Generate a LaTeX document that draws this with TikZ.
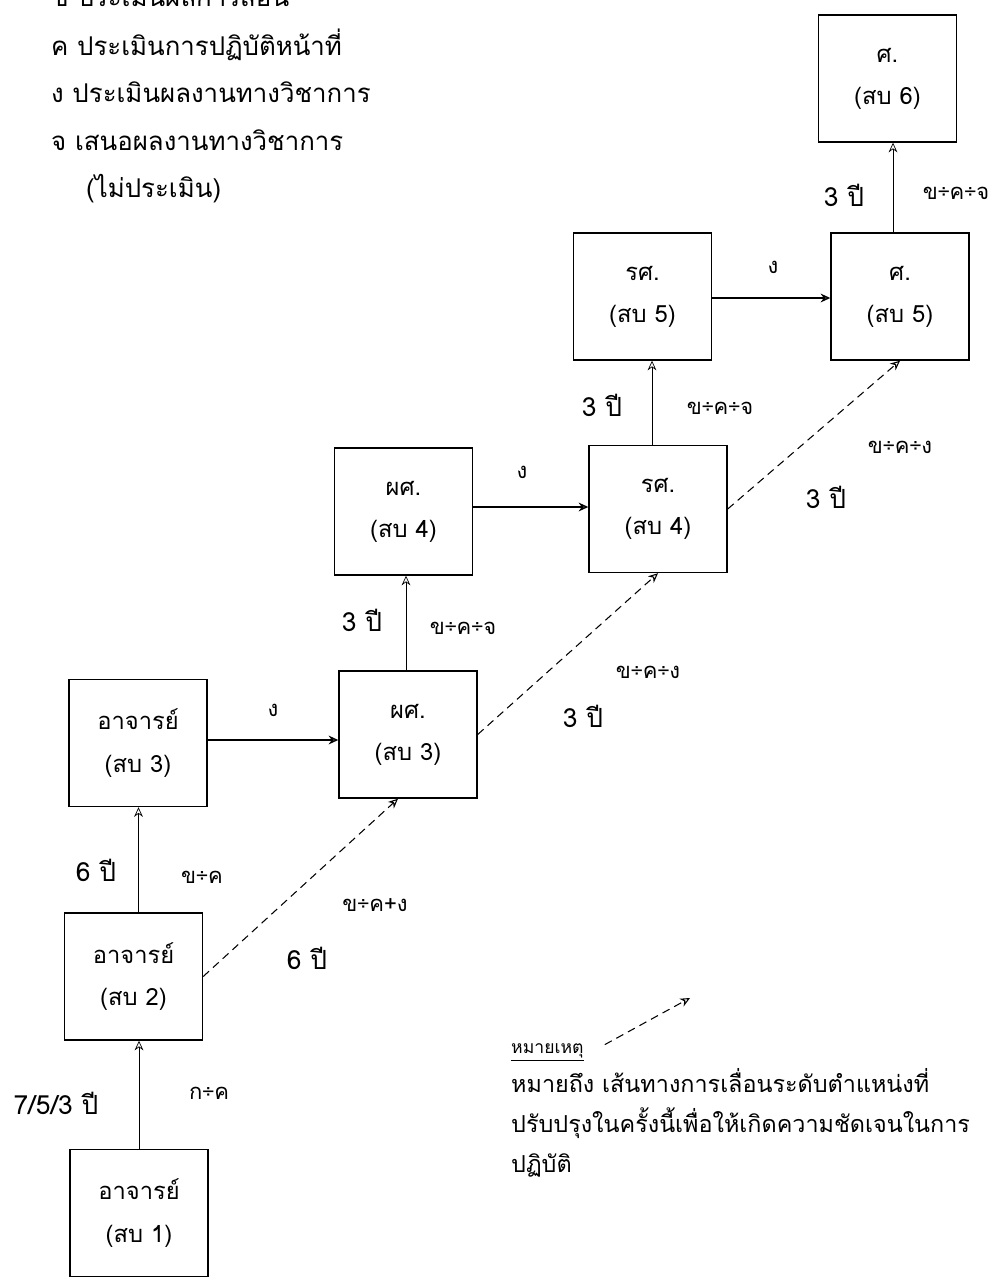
\documentclass[tikz,border=0pt]{standalone}
\usepackage{fontspec}
\setmainfont[Script=Thai]{Loma}
\usetikzlibrary{arrows.meta, positioning}

\begin{document}
\begin{tikzpicture}[
    grade/.style={draw, thick, rectangle, minimum width=2.76cm, minimum height=2.54cm, align=center, font=\fontsize{13.5}{24}\selectfont},
    tag/.style={font=\fontsize{15}{17}\selectfont},
    crit/.style={font=\fontsize{12.5}{14}\selectfont},
    key/.style={anchor=base west, font=\fontsize{14.7}{17}\selectfont},
    promo/.style={-{Stealth[open, length=5.5pt, width=5pt]}},
    fast/.style={promo, semithick, dash pattern=on 4.5pt off 3pt}]

\useasboundingbox (0,0) rectangle (19.84,-25.6);

% legend, top left
\node[key] (kb) at (0.9,-0.12) {ข ประเมินผลการสอน};
\node[key] (kc) at (0.9,-1.10) {ค ประเมินการปฏิบัติหน้าที่};
\node[key] (kd) at (0.9,-2.04) {ง ประเมินผลงานทางวิชาการ};
\node[key] (ke) at (0.9,-3.00) {จ เสนอผลงานทางวิชาการ};
\node[key] (kf) at (1.6,-3.94) {(ไม่ประเมิน)};

% positions
\node[grade] (aj1) at (2.78,-24.26) {อาจารย์\\(สบ 1)};
\node[grade] (aj2) at (2.67,-19.53) {อาจารย์\\(สบ 2)};
\node[grade] (aj3) at (2.76,-14.86) {อาจารย์\\(สบ 3)};
\node[grade] (pa3) at (8.16,-14.69) {ผศ.\\(สบ 3)};
\node[grade] (pa4) at (8.07,-10.23) {ผศ.\\(สบ 4)};
\node[grade] (ra4) at (13.16,-10.18) {รศ.\\(สบ 4)};
\node[grade] (ra5) at (12.85,-5.93) {รศ.\\(สบ 5)};
\node[grade] (sa5) at (18.00,-5.93) {ศ.\\(สบ 5)};
\node[grade] (sa6) at (17.75,-1.57) {ศ.\\(สบ 6)};

% upward steps
\draw[promo] (aj1.north) -- (aj1.north |- aj2.south);
\draw[promo] ([xshift=0.1cm]aj2.north) -- ([xshift=0.1cm]aj2.north |- aj3.south);
\draw[promo] ([xshift=-0.04cm]pa3.north) -- ([xshift=-0.04cm]pa3.north |- pa4.south);
\draw[promo] ([xshift=-0.12cm]ra4.north) -- ([xshift=-0.12cm]ra4.north |- ra5.south);
\draw[promo] ([xshift=-0.14cm]sa5.north) -- ([xshift=-0.14cm]sa5.north |- sa6.south);

% sideways steps
\draw[promo, thick] ([yshift=0.06cm]aj3.east) -- ([yshift=0.06cm]aj3.east -| pa3.west);
\draw[promo, thick] ([yshift=0.09cm]pa4.east) -- ([yshift=0.09cm]pa4.east -| ra4.west);
\draw[promo, thick] ([yshift=-0.03cm]ra5.east) -- ([yshift=-0.03cm]ra5.east -| sa5.west);

% new diagonal paths
\draw[fast] (aj2.east) -- ([xshift=-0.2cm]pa3.south);
\draw[fast] (pa3.east) -- (ra4.south);
\draw[fast] (ra4.east) -- (sa5.south);

% labels
\node[tag] (y1) at (1.12,-22.06) {7/5/3 ปี};
\node[crit] (c1) at (4.18,-21.86) {ก÷ค};
\node[tag] (y2) at (1.92,-17.40) {6 ปี};
\node[crit] (c2) at (4.04,-17.54) {ข÷ค};
\node[crit] (c3) at (7.50,-18.10) {ข÷ค+ง};
\node[tag] (y3) at (6.14,-19.16) {6 ปี};
\node[crit] (c4) at (5.46,-14.20) {ง};
\node[tag] (y4) at (7.24,-12.40) {3 ปี};
\node[crit] (c5) at (9.26,-12.56) {ข÷ค÷จ};
\node[crit] (c6) at (12.96,-13.44) {ข÷ค÷ง};
\node[tag] (y5) at (11.66,-14.32) {3 ปี};
\node[crit] (c7) at (10.44,-9.44) {ง};
\node[tag] (y6) at (12.04,-8.10) {3 ปี};
\node[crit] (c8) at (14.40,-8.16) {ข÷ค÷จ};
\node[crit] (c9) at (18.00,-8.94) {ข÷ค÷ง};
\node[tag] (y7) at (16.52,-9.94) {3 ปี};
\node[crit] (c10) at (15.46,-5.34) {ง};
\node[tag] (y8) at (16.88,-3.90) {3 ปี};
\node[crit] (c11) at (19.12,-3.86) {ข÷ค÷จ};

% note, bottom right
\node[key, font=\fontsize{10}{12}\selectfont] (note) at (10.10,-21.06) {\underline{หมายเหตุ}};
\coordinate (notetip) at (13.80,-19.96);
\draw[fast] ([xshift=0.3cm,yshift=0.15cm]note.east) -- (notetip);
\node[key, font=\fontsize{13.3}{16}\selectfont] (n1) at (10.10,-21.84) {หมายถึง เส้นทางการเลื่อนระดับตำแหน่งที่};
\node[key, font=\fontsize{13.3}{16}\selectfont] (n2) at (10.10,-22.64) {ปรับปรุงในครั้งนี้เพื่อให้เกิดความชัดเจนในการ};
\node[key, font=\fontsize{13.3}{16}\selectfont] (n3) at (10.10,-23.44) {ปฏิบัติ};
\end{tikzpicture}
\end{document}
